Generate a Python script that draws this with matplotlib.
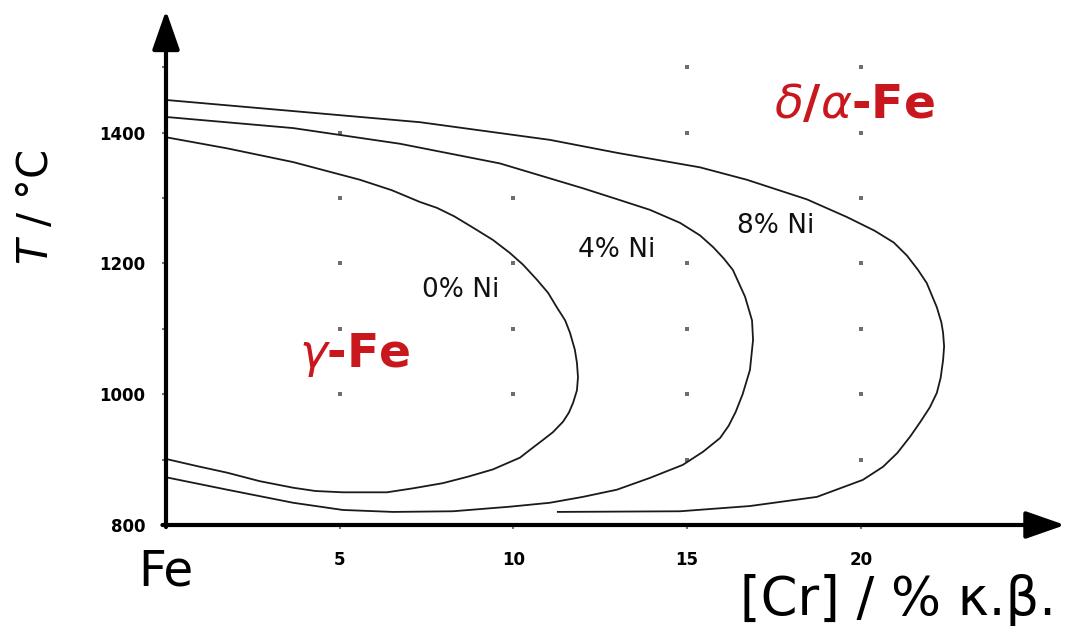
import matplotlib
matplotlib.use("Agg")
import matplotlib.pyplot as plt

# gamma loop boundaries for Fe-Cr(-Ni)
cr_0ni = [0, 1.76, 3.66, 5.58, 6.5, 7.31, 7.8, 8.3, 8.8, 9.41, 9.9, 10.28, 10.68, 11.0, 11.25,
          11.49, 11.63, 11.77, 11.83, 11.86, 11.83, 11.72, 11.6, 11.43, 11.14, 10.85, 10.48,
          10.19, 9.41, 8.7, 7.97, 7.1, 6.36, 5.09, 4.3, 3.66, 2.7, 1.76, 0.9, 0]
t_0ni = [1393, 1376, 1355, 1328, 1312, 1294, 1285, 1272, 1256, 1236, 1216, 1198, 1175, 1155, 1133,
         1113, 1094, 1068, 1048, 1026, 1006, 987, 972, 958, 942, 930, 915,
         903, 885, 874, 864, 856, 850, 850, 852, 857, 867, 880, 890, 901]

cr_4ni = [0, 3.66, 6.74, 9.61, 12.0, 13.0, 13.93, 14.8, 15.37, 15.75, 16.05, 16.32, 16.67, 16.87,
          16.9, 16.81, 16.6, 16.4, 16.2, 15.95, 15.46, 14.88, 13.93, 12.98, 12.0, 11.05, 9.9,
          8.26, 6.53, 5.09, 3.66, 1.76, 0]
t_4ni = [1424, 1407, 1383, 1353, 1315, 1298, 1282, 1262, 1243, 1225, 1208, 1190, 1149, 1113,
         1083, 1037, 1000, 973, 952, 933, 912, 892, 872, 854, 843, 834, 828,
         821, 820, 823, 834, 854, 873]

cr_8ni = [0, 3.66, 7.31, 11.05, 13.0, 15.37, 16.72, 18.45, 19.6, 20.4, 20.95, 21.33, 21.65, 21.9,
          22.19, 22.32, 22.37, 22.4, 22.37, 22.3, 22.19, 21.99, 21.72, 21.42, 21.05, 20.64, 20.06,
          19.4, 18.74, 16.81, 14.8, 11.28]
t_8ni = [1450, 1433, 1416, 1389, 1369, 1347, 1328, 1298, 1271, 1250, 1232, 1212, 1190, 1170,
         1133, 1110, 1094, 1073, 1052, 1025, 1002, 980, 958, 935, 910, 889, 869,
         856, 843, 829, 821, 820]

curve_labels = ['0% Ni', '4% Ni', '8% Ni']
label_cr = [8.49, 12.98, 17.56]
label_t = [1159, 1220, 1257]

x_ticks = [5, 10, 15, 20]
y_ticks = [800, 900, 1000, 1100, 1200, 1300, 1400, 1500]
y_ticklabels = ['800', '', '1000', '', '1200', '', '1400', '']

# little grey dots of the background grid that are visible
dot_cr = [5, 5, 5, 5, 5, 10, 10, 10, 10, 15, 15, 15, 15, 15, 15,
          20, 20, 20, 20, 20, 20, 20]
dot_t = [1000, 1100, 1200, 1300, 1400, 1000, 1100, 1200, 1300, 900, 1000, 1100, 1200, 1400, 1500,
         900, 1000, 1100, 1200, 1300, 1400, 1500]

red = '#c8181e'

fig = plt.figure(figsize=(10.67, 6.26), dpi=100)
ax = fig.add_axes([166/1067, 1-525/626, 899/1067, 512/626])
ax.set_xlim(0, 25.88)
ax.set_ylim(800, 1583)
for s in ax.spines.values():
    s.set_visible(False)

ax.plot(dot_cr, dot_t, 's', color='#6e6e6e', markersize=2.6, markeredgewidth=0, zorder=1)

for cr, t in [(cr_0ni, t_0ni), (cr_4ni, t_4ni), (cr_8ni, t_8ni)]:
    ax.plot(cr, t, color='#1a1a1a', lw=1.3, clip_on=False, zorder=2,
            solid_joinstyle='round')

for lab, x, y in zip(curve_labels, label_cr, label_t):
    ax.text(x, y, lab, fontsize=19, color='#111111', ha='center', va='center')

ax.text(19.83, 1441, r'$\delta$/$\alpha$-Fe', fontsize=34, fontweight='bold',
        color=red, ha='center', va='center')
ax.text(5.44, 1060, r'$\gamma$-Fe', fontsize=34, fontweight='bold',
        color=red, ha='center', va='center')

# axes drawn as arrows
arrow = dict(arrowstyle='-|>,head_length=0.8,head_width=0.28', mutation_scale=30,
             lw=3, color='black', shrinkA=0, shrinkB=0)
ax.annotate('', xy=(1, 0), xytext=(-0.004, 0), xycoords='axes fraction', arrowprops=arrow,
            annotation_clip=False)
ax.annotate('', xy=(0, 1.005), xytext=(0, -0.004), xycoords='axes fraction', arrowprops=arrow,
            annotation_clip=False)

ax.set_xticks(x_ticks)
ax.set_xticklabels([str(v) for v in x_ticks], fontsize=12, fontweight='bold')
ax.set_yticks(y_ticks)
ax.set_yticklabels(y_ticklabels, fontsize=12, fontweight='bold')
ax.tick_params(axis='x', length=3, width=1.5, color='#777777', pad=16)
ax.tick_params(axis='y', length=3, width=1.5, color='#777777', pad=12)

fig.text(166/1067, 1-571/626, 'Fe', fontsize=35, ha='center', va='center')
fig.text(36/1067, 1-207/626, r'$T$ / °C', fontsize=30, rotation=90, ha='center', va='center')
fig.text(898/1067, 1-600/626, '[Cr] / % κ.β.', fontsize=38, ha='center', va='center')

fig.savefig('out.png', dpi=100)
